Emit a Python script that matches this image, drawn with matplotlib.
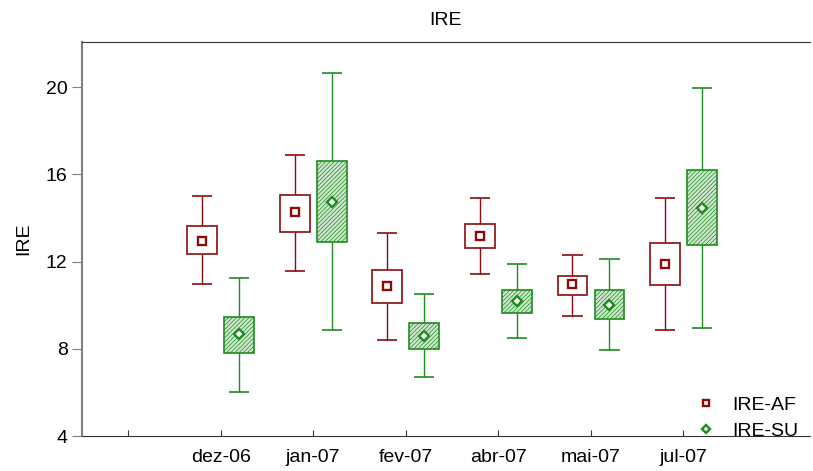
import matplotlib.pyplot as plt
import numpy as np

plt.rcParams['font.family'] = ['Liberation Sans', 'DejaVu Sans']

months = ['dez-06', 'jan-07', 'fev-07', 'abr-07', 'mai-07', 'jul-07']

# IRE-AF: lower whisker, box bottom, mean, box top, upper whisker
af_low = [10.97, 11.57, 8.42, 11.45, 9.50, 8.88]
af_q1 = [12.35, 13.36, 10.10, 12.62, 10.47, 10.94]
af_mean = [12.96, 14.28, 10.87, 13.16, 10.96, 11.88]
af_q3 = [13.63, 15.05, 11.63, 13.71, 11.35, 12.85]
af_high = [15.00, 16.89, 13.30, 14.93, 12.30, 14.93]

# IRE-SU
su_low = [6.00, 8.86, 6.70, 8.50, 7.94, 8.97]
su_q1 = [7.79, 12.90, 8.00, 9.64, 9.37, 12.75]
su_mean = [8.66, 14.73, 8.57, 10.20, 10.02, 14.44]
su_q3 = [9.47, 16.60, 9.20, 10.71, 10.68, 16.20]
su_high = [11.25, 20.65, 10.51, 11.88, 12.12, 19.96]

red = '#8b0a0a'
green = '#1e8c1e'

fig = plt.figure(figsize=(8.13, 4.71), dpi=100)
ax = fig.add_axes([0.101, 0.0743, 0.895, 0.8365])

x = np.arange(1, len(months) + 1)
box_w = 0.32
cap_w = 0.22


def draw_boxes(pos, low, q1, mean, q3, high, color, face, hatch, marker, msize, label):
    q1 = np.array(q1)
    q3 = np.array(q3)
    ax.bar(pos, q3 - q1, bottom=q1, width=box_w, facecolor=face,
           edgecolor=color, linewidth=1.2, hatch=hatch, zorder=2)
    ax.vlines(pos, low, q1, color=color, linewidth=1.0, zorder=1)
    ax.vlines(pos, q3, high, color=color, linewidth=1.0, zorder=1)
    ax.hlines(low, pos - cap_w / 2, pos + cap_w / 2, color=color, linewidth=1.2)
    ax.hlines(high, pos - cap_w / 2, pos + cap_w / 2, color=color, linewidth=1.2)
    ax.plot(pos, mean, linestyle='none', marker=marker, markersize=msize,
            markerfacecolor='white', markeredgecolor=color,
            markeredgewidth=1.7, zorder=3, label=label)


plt.rcParams['hatch.color'] = '#b4d8b4'
plt.rcParams['hatch.linewidth'] = 0.5
draw_boxes(x - 0.2, af_low, af_q1, af_mean, af_q3, af_high,
           red, 'white', None, 's', 5.5, 'IRE-AF')
draw_boxes(x + 0.2, su_low, su_q1, su_mean, su_q3, su_high,
           green, '#cfe7cf', '////////', 'D', 5, 'IRE-SU')

ax.set_xlim(-0.497, 7.365)
ax.set_ylim(4, 22.07)
ax.set_xticks(np.arange(0, 7))
ax.set_xticklabels([''] + months, fontsize=14)
ax.set_yticks([4, 8, 12, 16, 20])
ax.tick_params(axis='y', labelsize=14, direction='out', length=7,
               color='#808080')
ax.tick_params(axis='x', direction='in', length=4, color='#333333', pad=9)
ax.spines['right'].set_visible(False)
ax.spines['left'].set_color('#808080')
ax.spines['left'].set_linewidth(1.5)
ax.spines['bottom'].set_color('#333333')
ax.spines['top'].set_color('#333333')
ax.set_ylabel('IRE', fontsize=14, labelpad=10)
ax.set_title('IRE', fontsize=14, pad=12)
ax.legend(loc='lower right', frameon=False, fontsize=14, handlelength=1.0,
          handletextpad=0.85, labelspacing=0.45, borderaxespad=0.2,
          bbox_to_anchor=(1.0, -0.04), markerscale=0.85)

fig.savefig('out.png', dpi=100)
